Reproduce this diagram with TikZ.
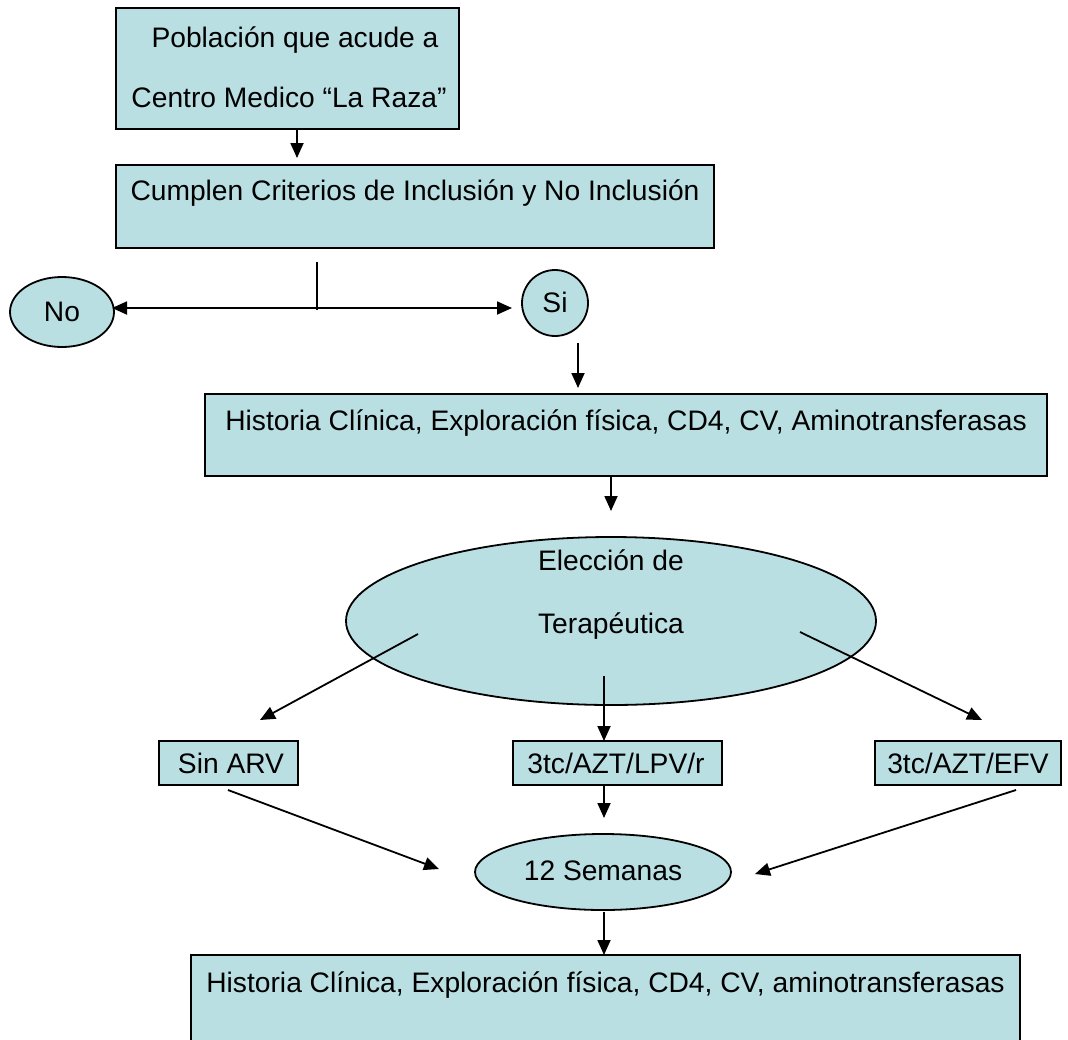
\documentclass[tikz,border=0pt]{standalone}
\usepackage{fontspec}
\setmainfont{Liberation Sans}
\usetikzlibrary{arrows.meta,shapes.geometric}
\definecolor{fillc}{HTML}{B9DFE3}
\tikzset{
  box/.style={draw=black,line width=1.8pt,fill=fillc,rectangle,inner sep=0pt},
  oval/.style={draw=black,line width=1.8pt,fill=fillc,ellipse,inner sep=0pt},
  txt/.style={font=\fontsize{28.2}{32}\selectfont,inner sep=0pt,anchor=center},
  arr/.style={line width=1.8pt,-{Triangle[length=15pt,width=13pt]}},
  ln/.style={line width=1.8pt}
}
\begin{document}
\begin{tikzpicture}[x=1pt,y=-1pt]
\useasboundingbox (0,0) rectangle (1068,1039);
% boxes
\node[box,minimum width=343pt,minimum height=121pt] (b1) at (287.5,68.5) {};
\node[txt] (t1a) at (295,40) {Población que acude a};
\node[txt] (t1b) at (289,97) {Centro Medico “La Raza”};
\node[box,minimum width=598pt,minimum height=83pt] (b2) at (415,206.5) {};
\node[txt] (t2) at (415,193) {Cumplen Criterios de Inclusión y No Inclusión};
\node[oval,minimum width=104pt,minimum height=70pt] (no) at (62,312) {};
\node[txt] (tno) at (62,312) {No};
\node[oval,minimum width=66pt,minimum height=66pt] (si) at (555,303) {};
\node[txt] (tsi) at (555,302) {Si};
\node[box,minimum width=842pt,minimum height=82pt] (b3) at (626,435) {};
\node[txt] (t3) at (626,423) {Historia Clínica, Exploración física, CD4, CV, Aminotransferasas};
\node[oval,minimum width=530pt,minimum height=168pt] (el) at (611,621) {};
\node[txt] (tel1) at (611,560) {Elección de};
\node[txt] (tel2) at (611,626) {Terapéutica};
\node[box,minimum width=139pt,minimum height=44pt] (s1) at (228.5,763) {};
\node[txt] (ts1) at (231,763) {Sin ARV};
\node[box,minimum width=209pt,minimum height=44pt] (s2) at (617.5,763) {};
\node[txt] (ts2) at (616,763) {3tc/AZT/LPV/r};
\node[box,minimum width=186pt,minimum height=44pt] (s3) at (968,763) {};
\node[txt] (ts3) at (968,763) {3tc/AZT/EFV};
\node[oval,minimum width=256pt,minimum height=76pt] (sem) at (603,872) {};
\node[txt] (tsem) at (603,871) {12 Semanas};
\node[box,minimum width=829pt,minimum height=100pt] (b4) at (605.5,1005) {};
\node[txt] (t4) at (605.5,985) {Historia Clínica, Exploración física, CD4, CV, aminotransferasas};
% connectors
\coordinate (c1) at (297,129);
\coordinate (c1e) at (297,158);
\draw[arr] (c1) -- (c1e);
\coordinate (v1) at (317,262);
\coordinate (v2) at (317,310);
\draw[ln] (v1) -- (v2);
\coordinate (hl) at (112,308);
\coordinate (hr) at (512,308);
\coordinate (hm) at (317,308);
\draw[arr] (hm) -- (hl);
\draw[arr] (hm) -- (hr);
\coordinate (sa) at (578,343);
\coordinate (sb) at (578,388);
\draw[arr] (sa) -- (sb);
\coordinate (ea) at (611,477);
\coordinate (eb) at (611,511);
\draw[arr] (ea) -- (eb);
\coordinate (l1) at (418,634);
\coordinate (l2) at (260,720);
\draw[arr] (l1) -- (l2);
\coordinate (m1) at (604,676);
\coordinate (m2) at (604,741);
\draw[arr] (m1) -- (m2);
\coordinate (r1) at (800,632);
\coordinate (r2) at (982,720);
\draw[arr] (r1) -- (r2);
\coordinate (x1) at (604,786);
\coordinate (x2) at (604,818);
\draw[arr] (x1) -- (x2);
\coordinate (y1) at (228,790);
\coordinate (y2) at (439,869);
\draw[arr] (y1) -- (y2);
\coordinate (z1) at (1016,790);
\coordinate (z2) at (755,874);
\draw[arr] (z1) -- (z2);
\coordinate (w1) at (604,912);
\coordinate (w2) at (604,955);
\draw[arr] (w1) -- (w2);
\end{tikzpicture}
\end{document}
